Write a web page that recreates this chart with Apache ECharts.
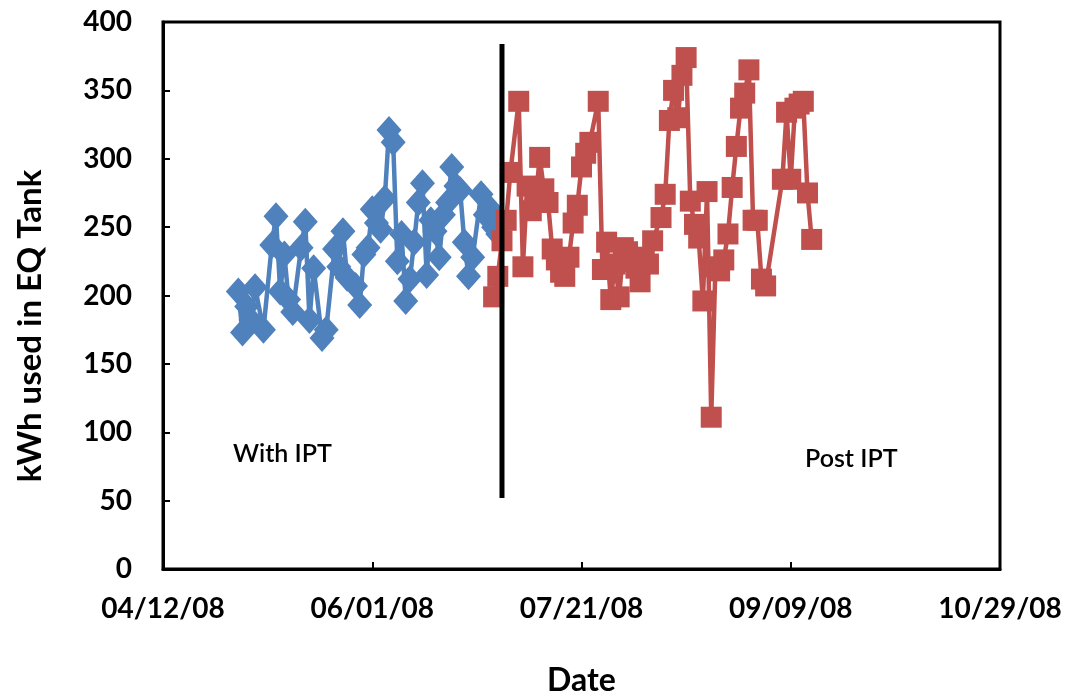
<!DOCTYPE html>
<html>
<head>
<meta charset="utf-8">
<script src="https://cdn.jsdelivr.net/npm/echarts@6/dist/echarts.min.js"></script>
<style>
  html, body { margin: 0; padding: 0; background: #fff; }
  #chart { width: 1071px; height: 696px; }
</style>
</head>
<body>
<div id="chart"></div>
<script>
// x axis works in Excel day serials, ticks every 50 days from 04/12/08
const xMin = 39550
const xMax = 39750
const xStep = 50
const yTicks = [0, 50, 100, 150, 200, 250, 300, 350, 400]

// With IPT (blue diamonds)
const withDates = ['04/30/08', '05/01/08', '05/02/08', '05/03/08', '05/04/08', '05/06/08', '05/08/08', '05/09/08', '05/10/08',
  '05/11/08', '05/12/08', '05/13/08', '05/15/08', '05/16/08', '05/17/08', '05/18/08', '05/20/08', '05/21/08', '05/23/08',
  '05/24/08', '05/25/08', '05/26/08', '05/28/08', '05/29/08', '05/30/08', '05/31/08', '06/01/08', '06/02/08', '06/03/08',
  '06/04/08', '06/05/08', '06/06/08', '06/07/08', '06/08/08', '06/09/08', '06/10/08', '06/11/08', '06/12/08', '06/13/08',
  '06/14/08', '06/15/08', '06/16/08', '06/17/08', '06/18/08', '06/19/08', '06/20/08', '06/21/08', '06/22/08', '06/23/08',
  '06/24/08', '06/25/08', '06/27/08', '06/28/08', '06/29/08', '06/30/08', '07/01/08']
const withKwh = [203, 173, 192, 182, 206, 175, 237, 258, 203,
  230, 197, 188, 235, 254, 182, 220, 169, 175, 234,
  221, 247, 213, 207, 193, 230, 235, 263, 253, 248,
  271, 321, 312, 225, 245, 196, 212, 239, 268, 282,
  215, 255, 247, 228, 259, 268, 294, 280, 277, 239,
  214, 228, 274, 259, 264, 250, 245]

// Post IPT (red squares)
const postDates = ['06/30/08', '07/01/08', '07/02/08', '07/03/08', '07/04/08', '07/06/08', '07/07/08', '07/08/08', '07/09/08',
  '07/10/08', '07/11/08', '07/12/08', '07/13/08', '07/14/08', '07/15/08', '07/16/08', '07/17/08', '07/18/08', '07/19/08',
  '07/20/08', '07/21/08', '07/22/08', '07/23/08', '07/25/08', '07/26/08', '07/27/08', '07/28/08', '07/29/08', '07/30/08',
  '07/31/08', '08/01/08', '08/02/08', '08/03/08', '08/04/08', '08/05/08', '08/06/08', '08/07/08', '08/09/08', '08/10/08',
  '08/11/08', '08/12/08', '08/13/08', '08/14/08', '08/15/08', '08/16/08', '08/17/08', '08/18/08', '08/19/08', '08/20/08',
  '08/21/08', '08/22/08', '08/23/08', '08/24/08', '08/25/08', '08/26/08', '08/27/08', '08/28/08', '08/29/08', '08/30/08',
  '08/31/08', '09/01/08', '09/02/08', '09/03/08', '09/07/08', '09/08/08', '09/09/08', '09/10/08', '09/11/08', '09/12/08',
  '09/13/08', '09/14/08']
const postKwh = [199, 214, 240, 255, 290, 342, 221, 280, 262,
  268, 301, 278, 268, 234, 226, 217, 214, 228, 253,
  266, 294, 304, 312, 342, 219, 239, 197, 223, 199,
  235, 232, 225, 220, 210, 228, 223, 240, 257, 274,
  328, 350, 330, 361, 374, 269, 252, 242, 196, 276,
  111, 221, 218, 226, 245, 279, 309, 337, 348, 365,
  255, 255, 212, 207, 285, 334, 285, 337, 340, 342,
  275, 241]

// divider between the two periods
const dividerX = 39631
const dividerY = [52, 384]

const excelEpoch = Date.UTC(1899, 11, 30)
function toSerial (s) {
  const [m, d, y] = s.split('/').map(Number)
  return (Date.UTC(2000 + y, m - 1, d) - excelEpoch) / 86400000
}
function fromSerial (v) {
  const dt = new Date(excelEpoch + v * 86400000)
  const p = n => String(n).padStart(2, '0')
  return p(dt.getUTCMonth() + 1) + '/' + p(dt.getUTCDate()) + '/' + p(dt.getUTCFullYear() % 100)
}

const font = 'Lato'
const chart = echarts.init(document.getElementById('chart'))

chart.setOption({
  animation: false,
  backgroundColor: '#fff',
  grid: {
    left: 163, right: 71, top: 22, bottom: 127,
    outerBoundsMode: 'none',
    containLabel: false,
    show: true, borderColor: '#000', borderWidth: 3
  },
  xAxis: {
    type: 'value',
    min: xMin, max: xMax, interval: xStep,
    name: 'Date',
    nameLocation: 'middle',
    nameGap: 96,
    nameTextStyle: { fontFamily: font, fontWeight: 'bold', fontSize: 32, color: '#000' },
    axisLine: { lineStyle: { color: '#000', width: 3 } },
    axisTick: { inside: true, length: 7, lineStyle: { color: '#000', width: 2 } },
    axisLabel: { margin: 26, fontFamily: font, fontWeight: 'bold', fontSize: 28, color: '#000', formatter: fromSerial },
    splitLine: { show: false }
  },
  yAxis: {
    type: 'value',
    min: yTicks[0], max: yTicks[yTicks.length - 1], interval: yTicks[1] - yTicks[0],
    axisLine: { lineStyle: { color: '#000', width: 3 } },
    axisTick: { inside: true, length: 7, lineStyle: { color: '#000', width: 2 } },
    axisLabel: { margin: 31, fontFamily: font, fontWeight: 'bold', fontSize: 28, color: '#000' },
    splitLine: { show: false }
  },
  graphic: [
    {
      type: 'text', x: 30, y: 326, rotation: Math.PI / 2,
      style: { text: 'kWh used in EQ Tank', align: 'center', verticalAlign: 'middle', fontFamily: font, fontWeight: 'bold', fontSize: 33, fill: '#000' }
    },
    { type: 'text', left: 233, top: 441, style: { text: 'With IPT', fontFamily: font, fontWeight: 600, fontSize: 25, fill: '#000' } },
    { type: 'text', left: 805, top: 446, style: { text: 'Post IPT', fontFamily: font, fontWeight: 600, fontSize: 25, fill: '#000' } }
  ],
  series: [
    {
      name: 'With IPT',
      type: 'line',
      data: withDates.map((d, i) => [toSerial(d), withKwh[i]]),
      symbol: 'diamond',
      symbolSize: [25, 28],
      itemStyle: { color: '#4F81BD' },
      lineStyle: { color: '#4F81BD', width: 4.5 },
      z: 2
    },
    {
      name: 'Post IPT',
      type: 'line',
      data: postDates.map((d, i) => [toSerial(d), postKwh[i]]),
      symbol: 'rect',
      symbolSize: 21,
      itemStyle: { color: '#C0504D' },
      lineStyle: { color: '#C0504D', width: 4.5 },
      z: 3
    },
    {
      name: 'divider',
      type: 'line',
      data: dividerY.map(v => [dividerX, v]),
      symbol: 'none',
      lineStyle: { color: '#000', width: 5 },
      z: 4
    }
  ]
})
</script>
</body>
</html>
